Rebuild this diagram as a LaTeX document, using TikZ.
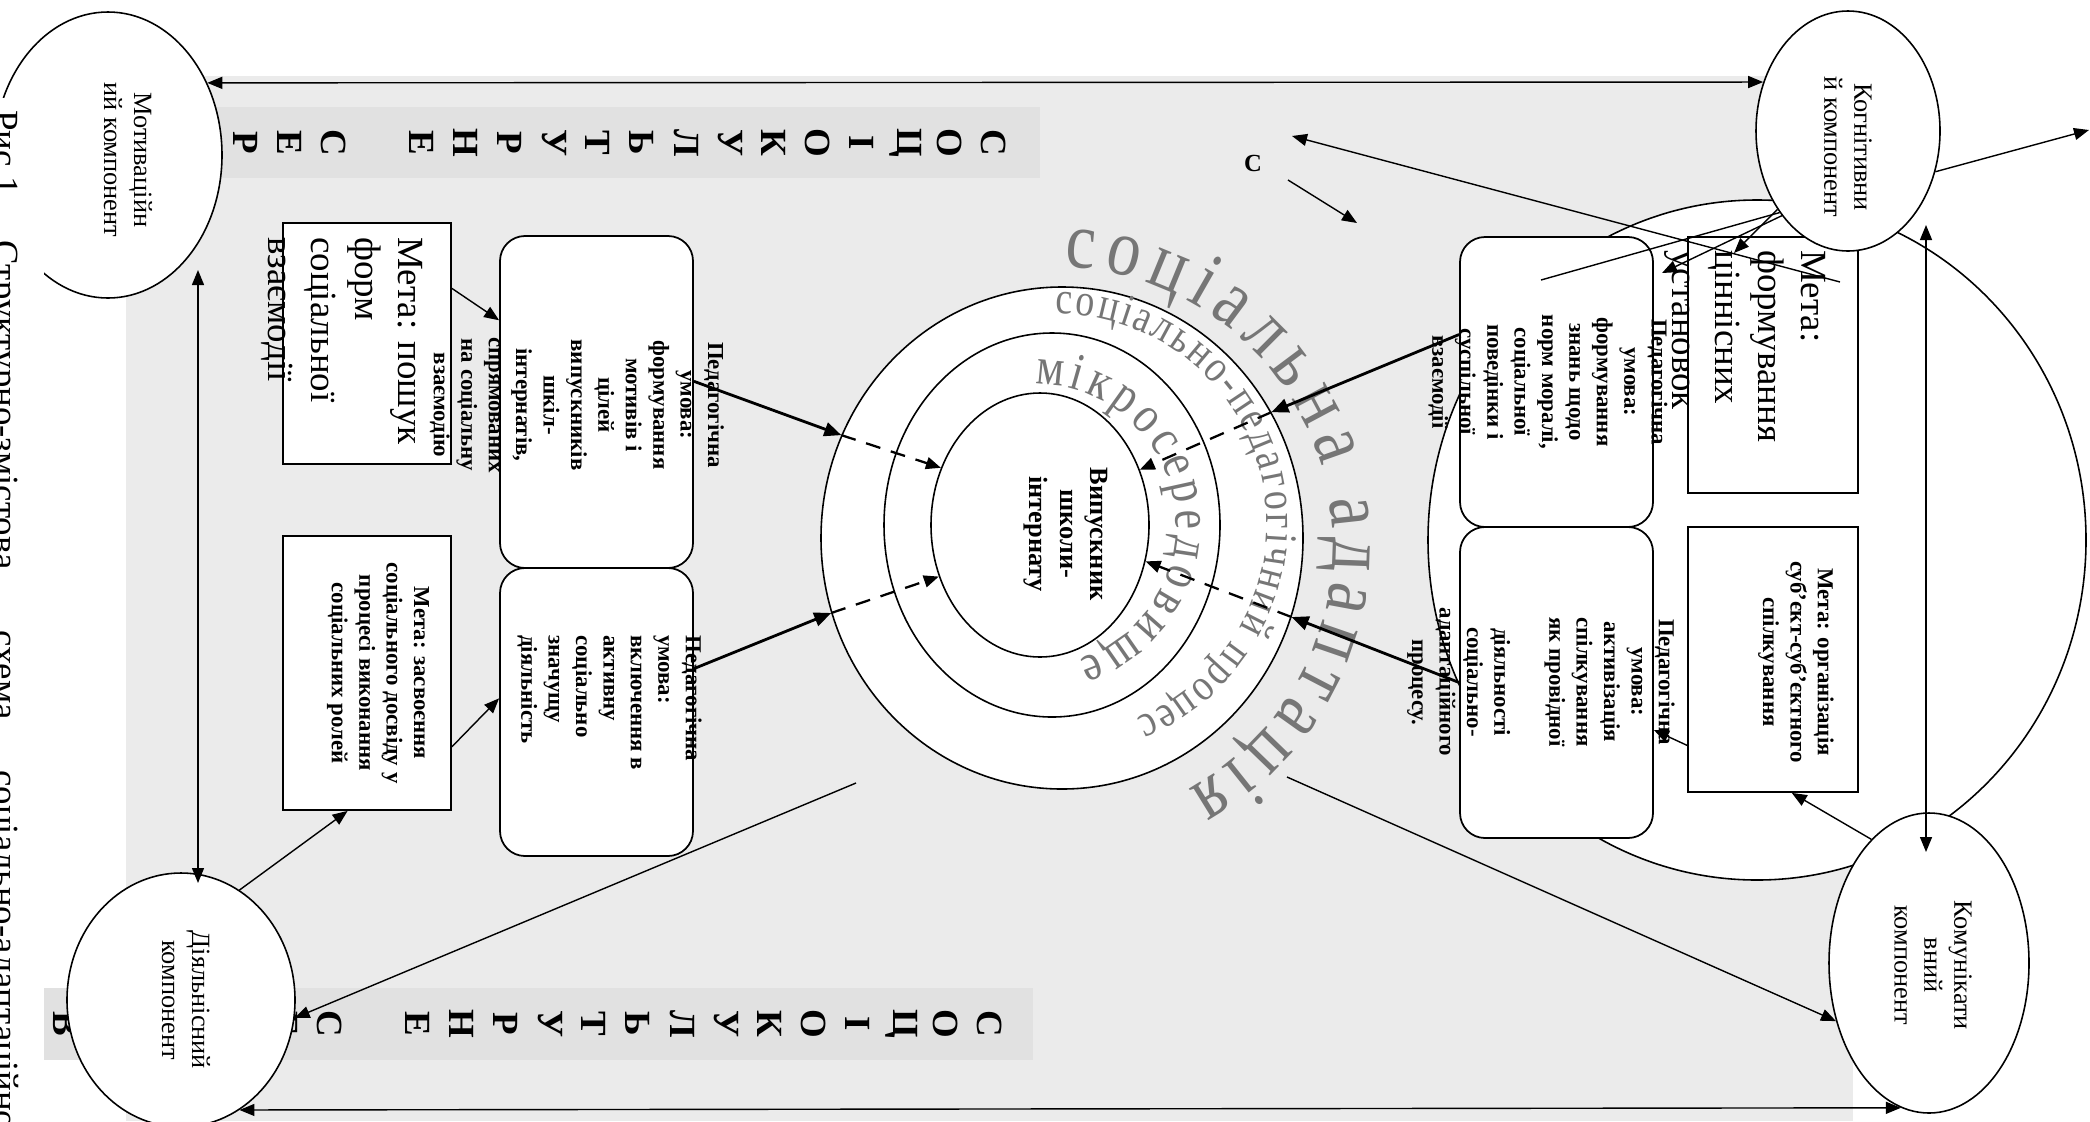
\documentclass[tikz,border=0pt]{standalone}
\usepackage{fontspec}
\setmainfont{Liberation Serif}
\newfontfamily\arcfont{Liberation Serif}[FakeStretch=0.83]
\usetikzlibrary{arrows.meta, shapes.geometric, decorations.text}
\definecolor{bggrey}{RGB}{235,235,235}
\definecolor{bandgrey}{RGB}{225,225,225}
\definecolor{arcgrey}{RGB}{118,118,118}
\newcommand\arcbig{\arcfont\fontsize{46}{50}\selectfont}
\newcommand\arcmid{\arcfont\fontsize{30}{34}\selectfont}
\newcommand\arcsmall{\arcfont\fontsize{26}{30}\selectfont}

\begin{document}
\begin{tikzpicture}[x=0.2mm, y=-0.2mm,
    comp/.style={draw, ellipse, fill=white, line width=0.9pt, inner sep=0pt},
    goal/.style={draw, rectangle, fill=white, line width=1pt, inner sep=0pt},
    cond/.style={draw, rectangle, rounded corners=5mm, fill=white, line width=1pt, inner sep=0pt},
    vtext/.style={rotate=-90, align=center, inner sep=0pt},
    condtxt/.style={vtext, font=\bfseries\fontsize{13}{15.6}\selectfont},
    bigtxt/.style={vtext, align=left, font=\fontsize{21}{24.5}\selectfont},
    comptxt/.style={vtext, font=\fontsize{15}{17}\selectfont},
    bandltr/.style={rotate=-90, inner sep=0pt, font=\bfseries\fontsize{21}{24}\selectfont},
    captxt/.style={rotate=-90, inner sep=0pt, anchor=base west, font=\fontsize{21}{24}\selectfont},
    headed/.style={-{Triangle[length=3mm, width=2.4mm]}},
    arr/.style={headed, line width=0.8pt},
    dbl/.style={{Triangle[length=3mm, width=2.4mm]}-{Triangle[length=3mm, width=2.4mm]}, line width=0.8pt},
    thk/.style={-{Triangle[length=3.4mm, width=2.8mm]}, line width=1.6pt},
    dsh/.style={headed, line width=1.3pt, dash pattern=on 3mm off 2.2mm},
    arctext/.style={decorate, decoration={text along path, text align=fit to path, text color=arcgrey, text={#1}}}
  ]
  \useasboundingbox (0,0) rectangle (2090,1121);

  % background
  \fill[bggrey] (126,76) rectangle (1853,1121);
  \fill[bandgrey] (130,107) rectangle (1040,178);
  \fill[bandgrey] (0,988) rectangle (1033,1060);
  \foreach \ch [count=\i from 0] in {С,О,Ц,І,О,К,У,Л,Ь,Т,У,Р,Н,Е,{},С,Е,Р,Е,Д,О,В,И,Щ,Е}{
    \node[bandltr] (top\i) at (994-44*\i,143) {\ch};
    \node[bandltr] (bot\i) at (990-44*\i,1024) {\ch};
  }

  \node[comp, minimum width=131.6mm, minimum height=136mm] (bigc) at (1757,540) {};

  % rings
  \node[comp, minimum width=96.4mm, minimum height=100.4mm] (outer) at (1062,538) {};
  \node[comp, minimum width=67.2mm, minimum height=76.8mm] (middle) at (1052,525) {};
  \node[comp, minimum width=43.6mm, minimum height=52.8mm] (inner) at (1040,525) {};
  \node[vtext, font=\bfseries\fontsize{15}{17.5}\selectfont] (pupil) at (1066,534) {Випускник\\школи-\\інтернату};

  \path[arctext={|\arcbig|соціальна адаптація}] (1055,545) ++(-88:278) arc[start angle=-88, end angle=61.5, radius=278];
  \path[arctext={|\arcsmall|соціально-педагогічний процес}] (1057,524) ++(-90.5:210) arc[start angle=-90.5, end angle=68, radius=210];
  \path[arctext={|\arcmid|мікросередовище}] (1035,525) ++(-90:141) arc[start angle=-90, end angle=72, radius=141];

  % boxes
  \node[goal, minimum width=33.6mm, minimum height=48.2mm] (B1) at (367,343.5) {};
  \node[goal, minimum width=33.6mm, minimum height=54.8mm] (B2) at (367,673) {};
  \node[goal, minimum width=34mm, minimum height=51.2mm] (B3) at (1773,365) {};
  \node[goal, minimum width=34mm, minimum height=53mm] (B4) at (1773,659.5) {};
  \node[cond, minimum width=38.6mm, minimum height=66.4mm] (R1) at (596.5,402) {};
  \node[cond, minimum width=38.6mm, minimum height=57.6mm] (R2) at (596.5,712) {};
  \node[cond, minimum width=38.6mm, minimum height=58mm] (R3) at (1556.5,382) {};
  \node[cond, minimum width=38.6mm, minimum height=62.2mm] (R4) at (1556.5,682.5) {};

  \node[condtxt] (R1t) at (577,405) {Педагогічна\\умова:\\формування\\мотивів і\\цілей\\випускників\\шкіл-\\інтернатів,\\спрямованих\\на соціальну\\взаємодію};
  \node[condtxt, align=left, anchor=west] (R2t) at (609.5,635) {Педагогічна\\умова:\\включення в\\активну\\соціально\\значущу\\діяльність};
  \node[condtxt] (R3t) at (1548,382) {Педагогічна\\умова:\\формування\\знань щодо\\норм моралі,\\соціальної\\поведінки і\\суспільної\\взаємодії};
  \node[condtxt] (R4t) at (1541,682) {Педагогічна\\умова:\\активізація\\спілкування\\як провідної\\[15.6pt]діяльності\\соціально-\\адаптаційного\\процесу.};
  \node[condtxt] (B2t) at (378,673) {Мета: засвоєння\\соціального досвіду у\\процесі виконання\\соціальних ролей};
  \node[condtxt] (B4t) at (1796,662) {Мета: організація\\суб’єкт-суб’єктного\\спілкування};
  \node[bigtxt, anchor=west] (B1t) at (342,237) {Мета: пошук\\форм\\соціальної\\взаємодії};
  \node[bigtxt, anchor=west] (B3t) at (1745,250) {Мета:\\формування\\ціннісних\\установок};

  % components
  \node[comp, minimum width=45.6mm, minimum height=57.2mm] (mot) at (108,155) {};
  \node[comptxt] (motl) at (128,160) {Мотиваційн\\ий компонент};
  \node[comp, minimum width=36.8mm, minimum height=48mm] (kog) at (1848,131) {};
  \node[comptxt] (kogl) at (1848,147) {Когнітивни\\й компонент};
  \node[comp, minimum width=45.6mm, minimum height=50.8mm] (dii) at (181,1000) {};
  \node[comptxt] (diil) at (186,1000) {Діяльнісний\\компонент};
  \node[comp, minimum width=40mm, minimum height=60mm] (kom) at (1929,963) {};
  \node[comptxt] (koml) at (1933,965) {Комунікати\\вний\\компонент};

  % caption
  \fill[white] (-10,98) rectangle (44,1130);
  \node[captxt] (cap1) at (-6,110) {Рис 1.};
  \node[captxt] (cap2) at (-6,240) {Структурно-змістова};
  \node[captxt] (cap3) at (-6,630) {схема};
  \node[captxt] (cap4) at (-6,770) {соціально-адаптаційного};

  \node[font=\bfseries\fontsize{14}{16}\selectfont, inner sep=0pt] (cmark) at (1253,163) {С};

  \coordinate (lvtop) at (198,270);
  \coordinate (lvbot) at (198,883);
  \coordinate (rvtop) at (1926,225);
  \coordinate (rvbot) at (1926,852);
  \coordinate (kogout) at (2089,130);
  \coordinate (b3in) at (1734,253);
  \coordinate (r3in) at (1662,273);
  \coordinate (r3mid) at (1541,280);
  \coordinate (cfar) at (1840,282);
  \coordinate (cnear) at (1292,136);
  \coordinate (cfrom) at (1288,180);
  \coordinate (cto) at (1357,223);
  \coordinate (lleft) at (856,783);
  \coordinate (lright) at (1287,777);

  \draw[dbl] (mot.36) -- (kog.150);
  \draw[dbl] (dii.-62) -- (kom.-101);
  \draw[dbl] (lvtop) -- (lvbot);
  \draw[dbl] (rvtop) -- (rvbot);
  \draw[arr] (kog.-25) -- (kogout);
  \draw[arr] (kog.-132) -- (b3in);
  \draw[arr] (kog.-128) -- (r3in);
  \draw[line width=0.8pt] (kog.-130) -- (r3mid);
  \draw[arr] (cfar) -- (cnear);
  \draw[arr] (cfrom) -- (cto);
  \draw[arr] (B1.33) -- (R1.140);
  \draw[arr] (B2.-41) -- (R2.172);
  \draw[arr] (dii.62) -- (B2.-98);
  \draw[arr] (lleft) -- (dii.-9);
  \draw[arr] (lright) -- (kom.-148);
  \draw[arr] (kom.115) -- (B4.-82);
  \draw[arr] (B4.-135) -- (R4.-26);

  \draw[thk] (R1.12) -- (outer.155);
  \draw[dsh] (outer.155) -- (inner.150);
  \draw[thk] (R2.24) -- (outer.-162);
  \draw[dsh] (outer.-162) -- (inner.-153);
  \draw[thk] (R3.154) -- (outer.31);
  \draw[dsh] (outer.31) -- (inner.29);
  \draw[thk] (R4.west) -- (outer.-19);
  \draw[dsh] (outer.-19) -- (inner.-19);
\end{tikzpicture}
\end{document}
